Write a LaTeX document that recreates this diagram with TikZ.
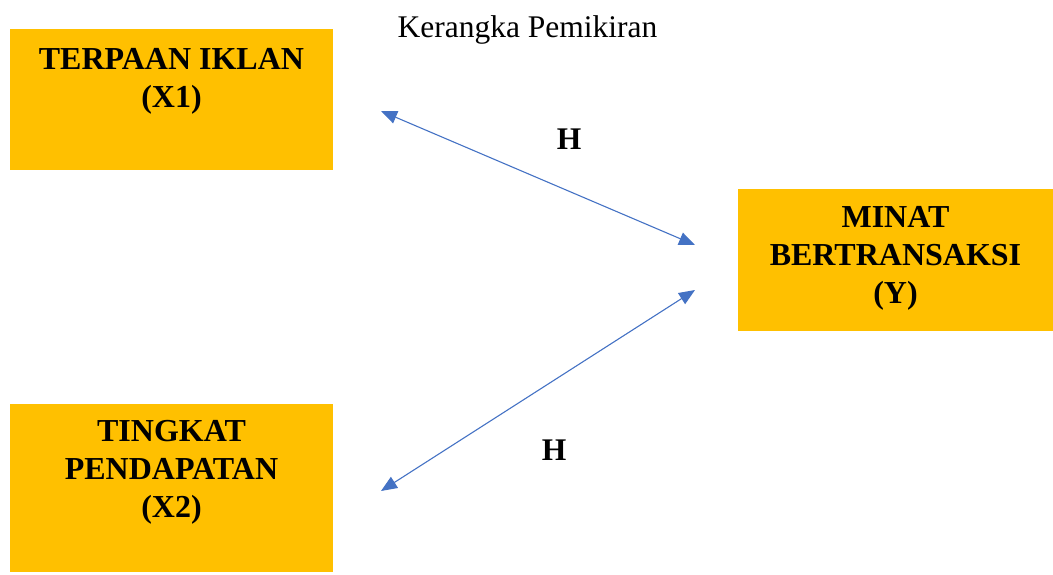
\documentclass[tikz,border=0pt]{standalone}
\usepackage{fontspec}
\setmainfont{Liberation Serif}
\usetikzlibrary{arrows.meta}
\definecolor{boxgold}{HTML}{FFC000}
\definecolor{arrowblue}{HTML}{4472C4}
\tikzset{
  box/.style={fill=boxgold, draw=none, inner sep=0pt, anchor=north west},
  lbl/.style={font=\fontsize{32}{38}\selectfont\bfseries, align=center, inner sep=0pt},
  lblbase/.style={anchor=base, inner sep=0pt},
  link/.style={draw=arrowblue, line width=1.1pt, {Triangle[length=16pt,width=13pt]}-{Triangle[length=16pt,width=13pt]}},
}
\begin{document}
\begin{tikzpicture}[x=1pt,y=-1pt]
\useasboundingbox (0,0) rectangle (1053,574);
% boxes
\node[box, minimum width=323pt, minimum height=141pt] (x1box) at (10,29) {};
\node[box, minimum width=315pt, minimum height=142pt] (ybox) at (738,189) {};
\node[box, minimum width=323pt, minimum height=168pt] (x2box) at (10,404) {};
% labels
\node[lbl] (x1txt) at (171.5,81) {TERPAAN IKLAN\\(X1)};
\node[lbl] (ytxt) at (895.5,258) {MINAT\\BERTRANSAKSI\\(Y)};
\node[lbl] (x2txt) at (171.5,472) {TINGKAT\\PENDAPATAN\\(X2)};
% title
\node[lblbase, font=\fontsize{31.5}{38}\selectfont] (title) at (527.5,37.7) {Kerangka Pemikiran};
% arrow endpoints
\coordinate (a1) at (381,111);
\coordinate (a2) at (695,245);
\coordinate (b1) at (381,491);
\coordinate (b2) at (695,290);
\draw[link] (a1) -- (a2);
\draw[link] (b1) -- (b2);
% H labels
\node[lblbase, font=\fontsize{31.5}{38}\selectfont\bfseries] (h1) at (569,149.3) {H};
\node[lblbase, font=\fontsize{31.5}{38}\selectfont\bfseries] (h2) at (554,460.7) {H};
\end{tikzpicture}
\end{document}
